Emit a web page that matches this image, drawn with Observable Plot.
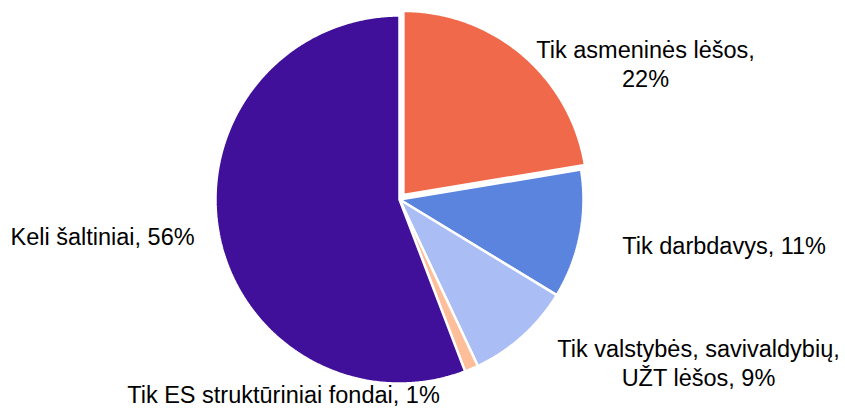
<!DOCTYPE html>
<html>
<head>
<meta charset="utf-8">
<script src="https://cdn.jsdelivr.net/npm/d3@7"></script>
<script src="https://cdn.jsdelivr.net/npm/@observablehq/plot@0.6"></script>
<style>
  html, body { margin: 0; padding: 0; background: #ffffff; }
  #chart { width: 845px; height: 409px; }
</style>
</head>
<body>
<div id="chart"></div>
<script>
// ---- data (clockwise from 12 o'clock) ----
const categories = [
  "Tik asmeninės lėšos",
  "Tik darbdavys",
  "Tik valstybės, savivaldybių,\nUŽT lėšos",
  "Tik ES struktūriniai fondai",
  "Keli šaltiniai"
];
const values = [22.4, 11.3, 9.3, 1.2, 55.8];
const percentLabels = ["22%", "11%", "9%", "1%", "56%"];

// ---- styles / layout ----
const colors = ["#F0694B", "#5B84DF", "#AABDF5", "#FFBE9A", "#40109A"];
const breakBeforePct = [true, false, false, false, false];
const explode = [6, 0, 0, 0, 0];              // px, along slice mid-angle
const labelNudge = [[127, 4], [144, 10], [176, 26], [-188, 25], [-116, 3]]; // px from slice edge
const W = 845, H = 409, CX = 399, CY = 199, R = 184;

// ---- build slices in unit-radius data space ----
const total = d3.sum(values);
let acc = 0;
const slices = values.map((v, i) => {
  const a0 = acc / total * 2 * Math.PI;
  acc += v;
  const a1 = acc / total * 2 * Math.PI;
  const mid = (a0 + a1) / 2;
  const ox = explode[i] / R * Math.sin(mid), oy = explode[i] / R * Math.cos(mid);
  const n = Math.max(2, Math.ceil((a1 - a0) / (Math.PI / 360)));
  const pts = [{x: ox, y: oy}];
  for (let k = 0; k <= n; k++) {
    const a = a0 + (a1 - a0) * k / n;
    pts.push({x: ox + Math.sin(a), y: oy + Math.cos(a)});
  }
  pts.push({x: ox, y: oy});
  const label = categories[i] + (breakBeforePct[i] ? ",\n" : ", ") + percentLabels[i];
  return {pts, mid, label, i};
});

const marks = [];
for (const s of slices) {
  marks.push(Plot.line(s.pts, {
    x: "x", y: "y",
    fill: colors[s.i], stroke: "#ffffff", strokeWidth: 2.5,
    strokeLinejoin: "miter", curve: "linear"
  }));
}
for (const s of slices) {
  marks.push(Plot.text([s], {
    x: d => Math.sin(d.mid), y: d => Math.cos(d.mid),
    text: "label",
    dx: labelNudge[s.i][0], dy: labelNudge[s.i][1],
    textAnchor: "middle", lineAnchor: "middle", lineHeight: 1.22,
    fontSize: 23.5, fill: "#000000"
  }));
}

const chart = Plot.plot({
  width: W, height: H,
  marginTop: 0, marginRight: 0, marginBottom: 0, marginLeft: 0,
  x: {domain: [-CX / R, (W - CX) / R], range: [0, W], axis: null},
  y: {domain: [-(H - CY) / R, CY / R], range: [H, 0], axis: null},
  style: {fontFamily: "'Liberation Sans', Arial, sans-serif", background: "#ffffff", overflow: "visible"},
  marks
});
document.getElementById("chart").appendChild(chart);
</script>
</body>
</html>
